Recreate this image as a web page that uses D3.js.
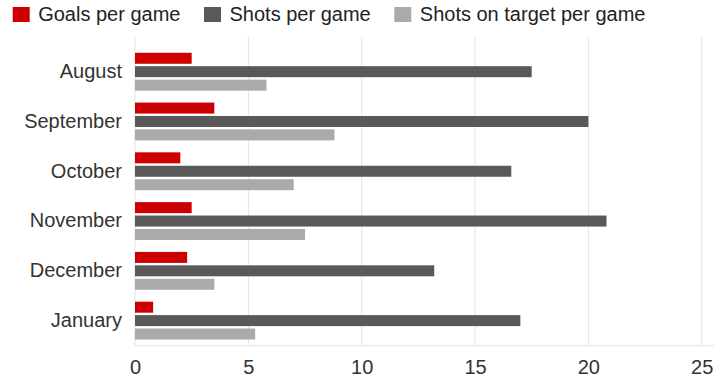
<!DOCTYPE html>
<html>
<head>
<meta charset="utf-8">
<script src="https://cdn.jsdelivr.net/npm/d3@7"></script>
<style>
  body { margin: 0; background: #fff; }
  svg { display: block; font-family: "Liberation Sans", Arial, sans-serif; }
</style>
</head>
<body>
<div id="chart"></div>
<script>
const months = ['August', 'September', 'October', 'November', 'December', 'January'];
const seriesNames = ['Goals per game', 'Shots per game', 'Shots on target per game'];
const goals = [2.5, 3.5, 2.0, 2.5, 2.3, 0.8];
const shots = [17.5, 20.0, 16.6, 20.8, 13.2, 17.0];
const onTarget = [5.8, 8.8, 7.0, 7.5, 3.5, 5.3];
const xTicks = [0, 5, 10, 15, 20, 25];
const colors = ['#cc0000', '#595959', '#aaaaaa'];

const width = 720, height = 382;
const plotLeft = 135, plotRight = 701.7, plotTop = 37, plotBottom = 345.7;

const svg = d3.select('#chart').append('svg')
    .attr('width', width)
    .attr('height', height);

const x = d3.scaleLinear().domain([0, 25]).range([plotLeft, plotRight]);
const y = d3.scaleBand().domain(months).range([46.8, 345.5]).paddingInner(0.24).paddingOuter(0.12);
const inner = d3.scaleBand().domain(seriesNames).range([0, y.bandwidth()]).paddingInner(0.18);

// grid
svg.append('g')
    .selectAll('line')
    .data(xTicks)
    .join('line')
    .attr('x1', d => x(d)).attr('x2', d => x(d))
    .attr('y1', plotTop).attr('y2', plotBottom)
    .attr('stroke', '#e3e3e3')
    .attr('stroke-width', 1);

svg.append('line')
    .attr('x1', plotLeft).attr('x2', 714)
    .attr('y1', plotBottom).attr('y2', plotBottom)
    .attr('stroke', '#e3e3e3');

// x axis labels
const xAxis = svg.append('g')
    .attr('transform', `translate(0,${plotBottom})`)
    .call(d3.axisBottom(x).tickValues(xTicks).tickSize(0).tickPadding(14));
xAxis.select('.domain').remove();
xAxis.selectAll('text')
    .attr('font-size', 20)
    .attr('font-family', '"Liberation Sans", Arial, sans-serif')
    .attr('fill', '#333');

// y axis labels
const yAxis = svg.append('g')
    .attr('transform', `translate(${plotLeft},0)`)
    .call(d3.axisLeft(y).tickSize(0).tickPadding(13));
yAxis.select('.domain').remove();
yAxis.selectAll('text')
    .attr('font-size', 20)
    .attr('font-family', '"Liberation Sans", Arial, sans-serif')
    .attr('fill', '#333');

// bars
const data = [goals, shots, onTarget];
data.forEach((vals, si) => {
    svg.append('g')
        .selectAll('rect')
        .data(vals)
        .join('rect')
        .attr('x', x(0))
        .attr('y', (d, i) => y(months[i]) + inner(seriesNames[si]))
        .attr('width', d => x(d) - x(0))
        .attr('height', inner.bandwidth())
        .attr('fill', colors[si]);
});

// legend
const legendX = [12.7, 204, 394.3];
const legend = svg.append('g');
seriesNames.forEach((name, i) => {
    legend.append('rect')
        .attr('x', legendX[i]).attr('y', 7)
        .attr('width', 17).attr('height', 15)
        .attr('fill', colors[i]);
    legend.append('text')
        .attr('x', legendX[i] + 25.5).attr('y', 21)
        .attr('font-size', 20)
        .attr('fill', '#222')
        .text(name);
});
</script>
</body>
</html>
